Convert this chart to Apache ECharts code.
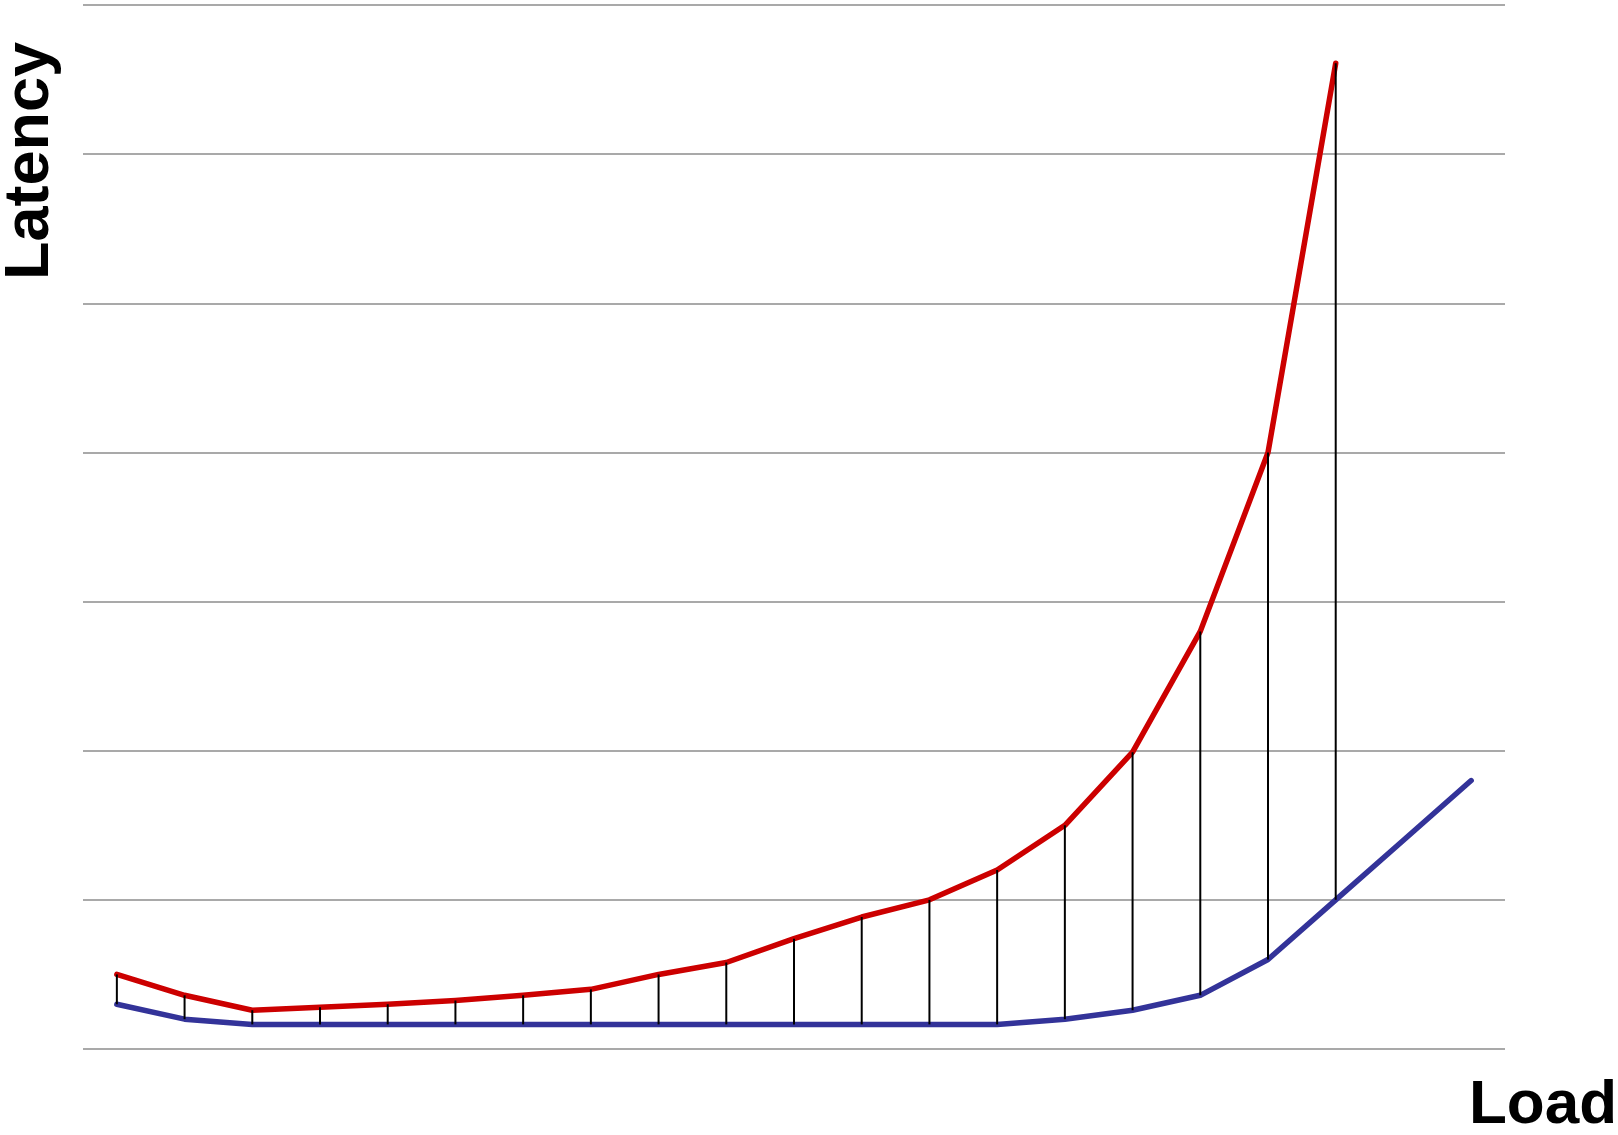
<!DOCTYPE html>
<html>
<head>
<meta charset="utf-8">
<script src="https://cdn.jsdelivr.net/npm/echarts@6/dist/echarts.min.js"></script>
<style>html,body{margin:0;padding:0;background:#fff}#c{width:1618px;height:1135px}</style>
</head>
<body>
<div id="c"></div>
<script>
const categories = ['1','2','3','4','5','6','7','8','9','10','11','12','13','14','15','16','17','18','19','20','21'];
const redValues = [0.50, 0.36, 0.26, 0.28, 0.30, 0.325, 0.36, 0.40, 0.50, 0.58, 0.74, 0.885, 1.00, 1.20, 1.50, 1.99, 2.80, 4.00, 6.61];
const blueValues = [0.30, 0.20, 0.165, 0.165, 0.165, 0.165, 0.165, 0.165, 0.165, 0.165, 0.165, 0.165, 0.165, 0.165, 0.20, 0.26, 0.36, 0.60, 1.00, 1.40, 1.80];
const yTicks = [0, 1, 2, 3, 4, 5, 6, 7];

const connectors = redValues.map((r, i) => [i, r, blueValues[i]]);

const chart = echarts.init(document.getElementById('c'), null, {renderer: 'canvas'});
chart.setOption({
  animation: false,
  backgroundColor: '#ffffff',
  grid: {left: 83, right: 113, top: 5, bottom: 86},
  xAxis: {
    type: 'category',
    data: categories,
    boundaryGap: true,
    axisLine: {show: false},
    axisTick: {show: false},
    axisLabel: {show: false},
    splitLine: {show: false}
  },
  yAxis: {
    type: 'value',
    min: yTicks[0],
    max: yTicks[yTicks.length - 1],
    interval: 1,
    axisLine: {show: false},
    axisTick: {show: false},
    axisLabel: {show: false},
    splitLine: {show: true, lineStyle: {color: '#8c8c8c', width: 1.6}}
  },
  series: [
    {
      type: 'line',
      data: blueValues,
      showSymbol: false,
      lineStyle: {color: '#333399', width: 5.5, cap: 'round', join: 'round'},
      z: 2
    },
    {
      type: 'line',
      data: redValues,
      showSymbol: false,
      lineStyle: {color: '#cc0000', width: 5.5, cap: 'round', join: 'round'},
      z: 2
    },
    {
      type: 'custom',
      data: connectors,
      z: 3,
      renderItem: function (params, api) {
        const a = api.coord([api.value(0), api.value(1)]);
        const b = api.coord([api.value(0), api.value(2)]);
        return {
          type: 'line',
          shape: {x1: a[0], y1: a[1], x2: b[0], y2: b[1]},
          style: {stroke: '#000000', lineWidth: 2}
        };
      }
    }
  ],
  graphic: [
    {
      type: 'text',
      x: 31, y: 161,
      rotation: Math.PI / 2,
      style: {
        text: 'Latency',
        font: 'bold 63px "Liberation Sans", Arial, sans-serif',
        fill: '#000',
        align: 'center',
        verticalAlign: 'middle'
      }
    },
    {
      type: 'text',
      x: 1617, y: 1106,
      style: {
        text: 'Load',
        font: 'bold 62px "Liberation Sans", Arial, sans-serif',
        fill: '#000',
        align: 'right',
        verticalAlign: 'middle'
      }
    }
  ]
});
</script>
</body>
</html>
